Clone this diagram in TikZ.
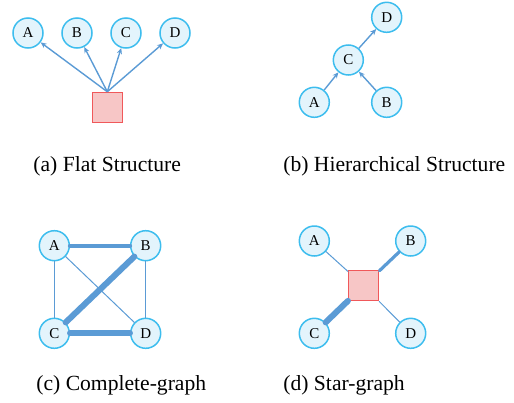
\documentclass[tikz,border=0pt]{standalone}
\usepackage{fontspec}
\setmainfont{Liberation Serif}
\usetikzlibrary{arrows.meta}
\definecolor{nodefill}{HTML}{E3F4FC}
\definecolor{nodeline}{HTML}{3DBDEE}
\definecolor{hubfill}{HTML}{F7C6C6}
\definecolor{hubline}{HTML}{F0585A}
\definecolor{edgeblue}{HTML}{5B9BD5}
\begin{document}
\begin{tikzpicture}[x=0.5pt, y=-0.5pt,
  agent/.style={circle, draw=nodeline, fill=nodefill, line width=0.75pt, minimum size=15pt, inner sep=0pt, font=\fontsize{7.5}{9}\selectfont},
  hub/.style={rectangle, draw=hubline, fill=hubfill, line width=0.75pt, minimum size=15pt, inner sep=0pt},
  arr/.style={-{Stealth[length=3pt,width=2.6pt]}, draw=edgeblue, line width=0.7pt},
  link/.style={draw=edgeblue, line cap=round},
  caption/.style={anchor=base west, inner sep=0pt, font=\fontsize{10.8}{13}\selectfont}]
\useasboundingbox (0,0) rectangle (514,402);

% (a) flat
\node[agent] (fa) at (28,33) {A};
\node[agent] (fb) at (77,33) {B};
\node[agent] (fc) at (126,33) {C};
\node[agent] (fd) at (175,33) {D};
\node[hub] (fh) at (107.3,107.5) {};
\foreach \n in {fa,fb,fc,fd}
  \draw[arr] (fh.north) -- (\n);
\node[caption] (capa) at (33,171) {(a) Flat Structure};

% (b) hierarchical
\node[agent] (hd) at (386.7,17.3) {D};
\node[agent] (hc) at (348.3,60) {C};
\node[agent] (ha) at (314.3,102.3) {A};
\node[agent] (hb) at (386.7,102.3) {B};
\draw[arr] (ha) -- (hc);
\draw[arr] (hb) -- (hc);
\draw[arr] (hc) -- (hd);
\node[caption] (capb) at (283,171) {(b) Hierarchical Structure};

% (c) complete graph
\node[agent] (ca) at (54.3,245.7) {A};
\node[agent] (cb) at (145.7,245.7) {B};
\node[agent] (cc) at (54.3,333.3) {C};
\node[agent] (cd) at (145.7,333.3) {D};
\draw[link, line width=2.2pt] (ca) -- (cb);
\draw[link, line width=3pt] (cb) -- (cc);
\draw[link, line width=3pt] (cc) -- (cd);
\draw[link, line width=0.7pt] (ca) -- (cc);
\draw[link, line width=0.5pt] (ca) -- (cd);
\draw[link, line width=0.7pt] (cb) -- (cd);
\node[caption] (capc) at (36,390) {(c) Complete-graph};

% (d) star graph
\node[agent] (sa) at (314.3,241) {A};
\node[agent] (sb) at (410.7,241) {B};
\node[agent] (sc) at (314.3,333.3) {C};
\node[agent] (sd) at (410.7,333.3) {D};
\node[hub] (sh) at (363.7,285.7) {};
\draw[link, line width=0.5pt] (sh) -- (sa);
\draw[link, line width=1.6pt] (sh) -- (sb);
\draw[link, line width=3pt] (sh) -- (sc);
\draw[link, line width=0.5pt] (sh) -- (sd);
\node[caption] (capd) at (283,390) {(d) Star-graph};
\end{tikzpicture}
\end{document}
